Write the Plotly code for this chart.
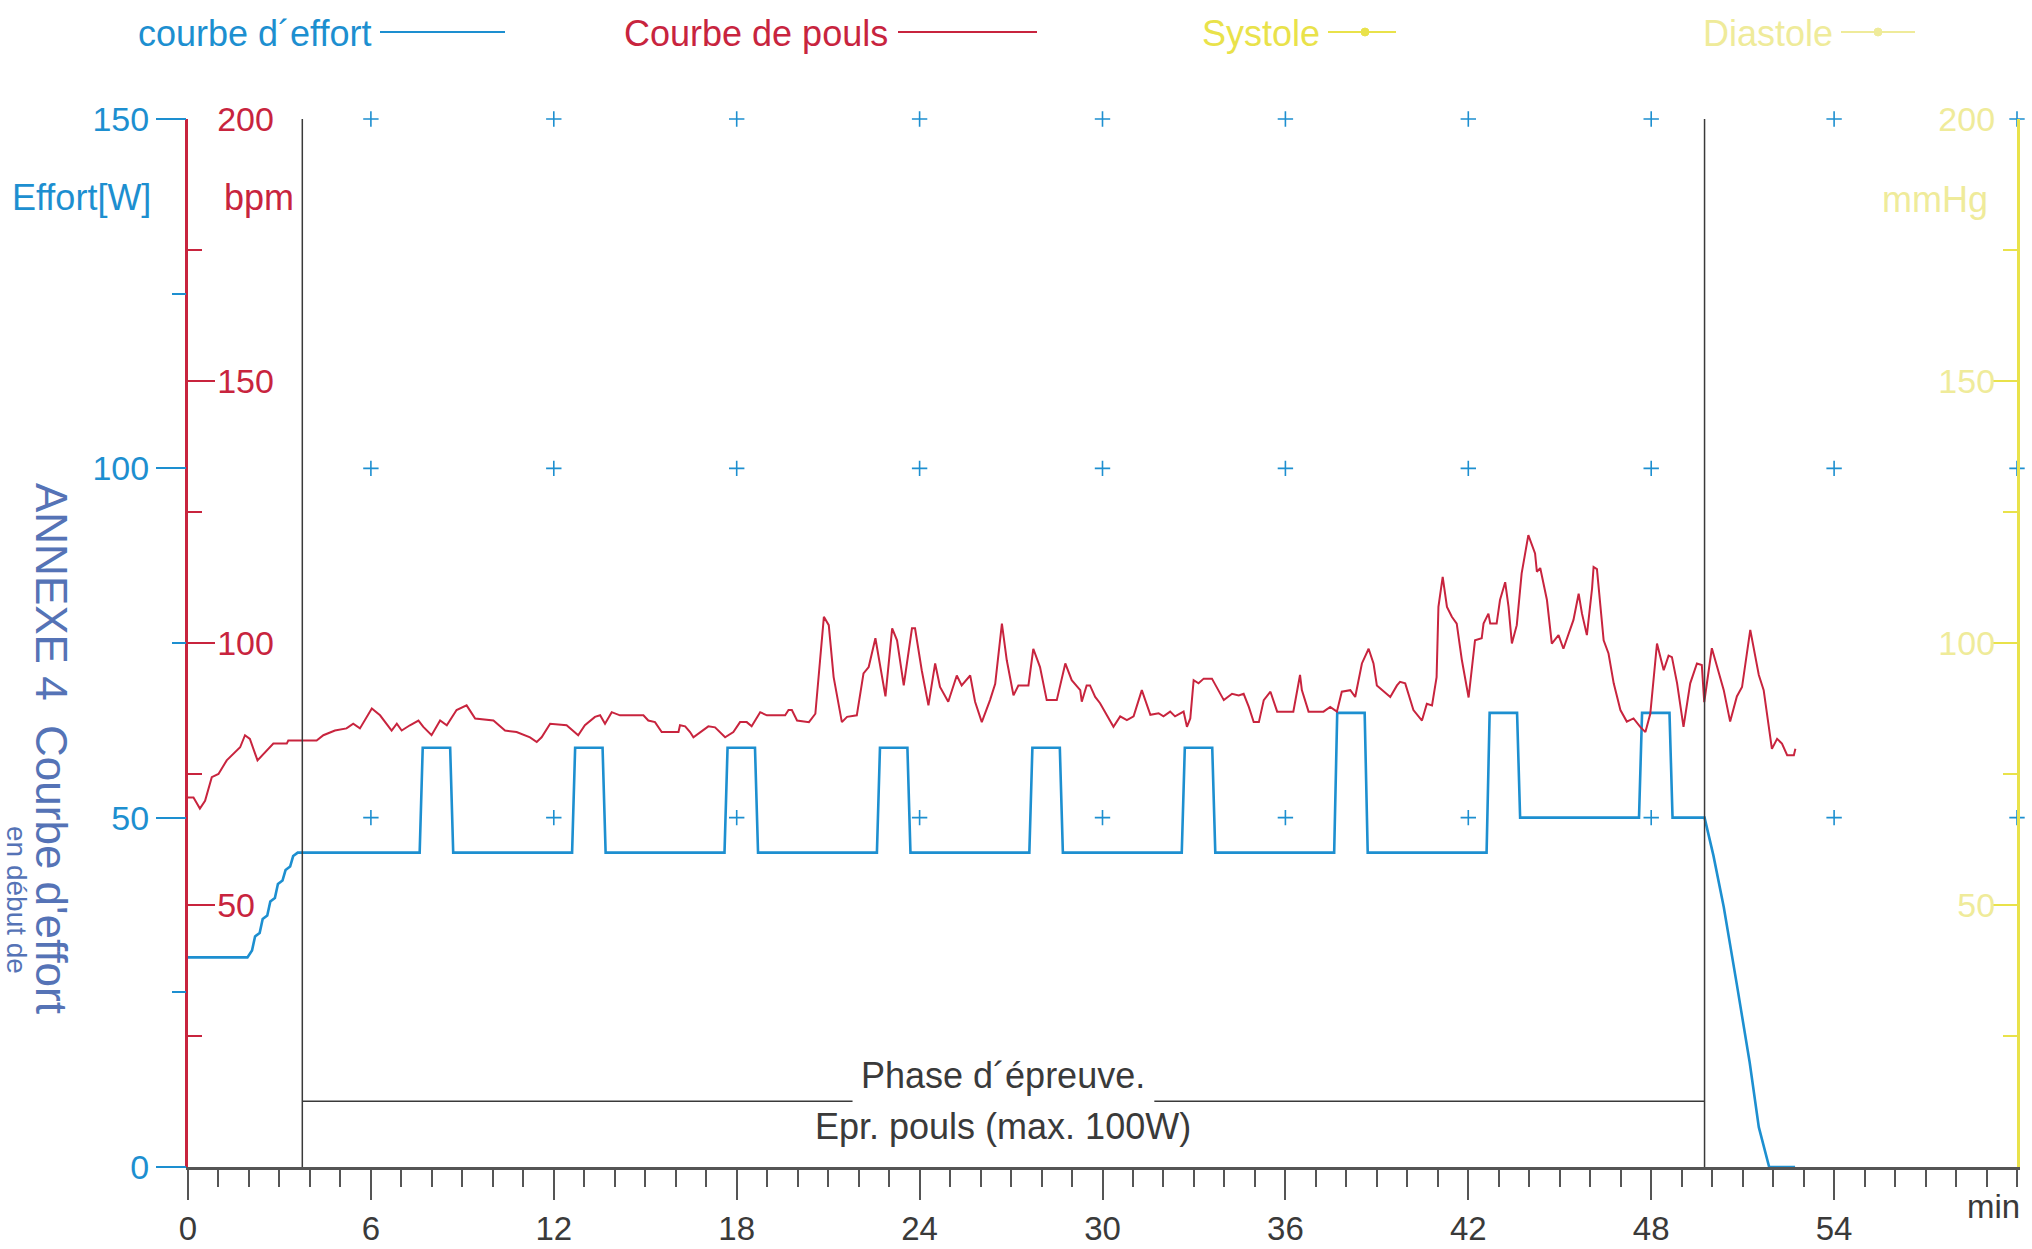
import plotly.graph_objects as go

# ---------------- data ----------------
EFFORT_T = [0, 1.95, 2.1, 2.2, 2.35, 2.45, 2.6, 2.7, 2.85, 2.95, 3.1, 3.2, 3.35, 3.45, 3.6, 3.75,
            7.6, 7.7, 8.6, 8.7, 12.6, 12.7, 13.6, 13.7, 17.6, 17.7, 18.6, 18.7,
            22.6, 22.7, 23.6, 23.7, 27.6, 27.7, 28.6, 28.7, 32.6, 32.7, 33.6, 33.7,
            37.6, 37.7, 38.6, 38.7, 42.6, 42.7, 43.6, 43.7, 47.6, 47.7, 48.6, 48.7,
            49.75, 50.04, 50.38, 50.81, 51.23, 51.53, 51.87, 52.72]
EFFORT_W = [30, 30, 31, 33, 33.5, 35.5, 36, 38, 38.5, 40.5, 41, 42.5, 43, 44.5, 45, 45,
            45, 60, 60, 45, 45, 60, 60, 45, 45, 60, 60, 45,
            45, 60, 60, 45, 45, 60, 60, 45, 45, 60, 60, 45,
            45, 65, 65, 45, 45, 65, 65, 50, 50, 65, 65, 50,
            50, 44.6, 37.2, 26.1, 15.0, 5.7, 0, 0]

PULSE_T = [0, 0.18, 0.39, 0.56, 0.78, 1.0, 1.27, 1.49, 1.71, 1.87, 2.03, 2.28, 2.53, 2.80, 3.24, 3.29,
           3.79, 4.22, 4.44, 4.82, 5.20, 5.42, 5.64, 6.03, 6.30, 6.68, 6.85, 7.01, 7.28, 7.56, 7.72,
           7.99, 8.27, 8.49, 8.81, 9.14, 9.42, 10.02, 10.40, 10.78, 11.22, 11.44, 11.60, 11.88,
           12.42, 12.80, 13.02, 13.35, 13.52, 13.68, 13.90, 14.17,
           14.94, 15.10, 15.32, 15.54, 16.09, 16.14, 16.31, 16.47, 16.58, 16.80, 17.07, 17.29,
           17.62, 17.89, 18.11, 18.33, 18.49, 18.77, 18.99, 19.59, 19.70, 19.81, 19.98, 20.37,
           20.58, 20.86, 21.02, 21.18, 21.45, 21.62, 21.94, 22.16, 22.33, 22.55, 22.88, 23.10,
           23.26, 23.48, 23.75, 23.85, 24.07, 24.29, 24.51, 24.67, 24.94, 25.22, 25.38, 25.66,
           25.82, 26.04, 26.31, 26.48, 26.70, 26.86, 27.08, 27.24, 27.57, 27.73, 27.95,
           28.17, 28.50, 28.78, 28.99, 29.27, 29.32, 29.48, 29.59, 29.76, 29.92, 30.36, 30.58,
           30.80, 31.02, 31.29, 31.57, 31.84, 32.00, 32.22, 32.38, 32.66, 32.77, 32.88, 32.99,
           33.15, 33.32, 33.59, 33.98, 34.25, 34.47, 34.63, 34.80, 34.96, 35.13, 35.29, 35.51,
           35.73, 36.26, 36.48, 36.54, 36.76, 37.25, 37.47, 37.69, 37.85, 38.13, 38.29, 38.51,
           38.73, 38.89, 39.00, 39.33, 39.44, 39.66,
           39.76, 39.93, 40.20, 40.48, 40.64, 40.81, 40.96, 41.02, 41.16, 41.30, 41.46, 41.62,
           41.79, 42.01, 42.22, 42.44, 42.50, 42.66, 42.72, 42.93, 43.04, 43.21, 43.32, 43.43,
           43.59, 43.75, 43.97, 44.19, 44.25, 44.36, 44.58, 44.74, 44.96, 45.12, 45.45, 45.62,
           45.73, 45.89, 46.06, 46.11, 46.22, 46.44, 46.60, 46.77, 46.99, 47.20, 47.42, 47.64,
           47.81, 47.97, 48.19, 48.41, 48.57, 48.68, 48.85, 49.06, 49.28, 49.50, 49.66, 49.74,
           49.99, 50.16, 50.38, 50.59, 50.81, 50.98, 51.25, 51.53, 51.69, 51.96, 52.13, 52.29,
           52.46, 52.68, 52.73]
PULSE_BPM = [70.5, 70.5, 68.4, 69.9, 74.4, 75.0, 77.6, 78.9, 80.1, 82.4, 81.7, 77.6, 79.2, 80.8, 80.8, 81.4,
             81.4, 81.4, 82.4, 83.3, 83.7, 84.6, 83.7, 87.5, 86.2, 83.3, 84.6, 83.3, 84.3, 85.2, 84.0,
             82.4, 85.2, 84.3, 87.2, 88.1, 85.6, 85.2, 83.3, 83.0, 82.0, 81.1, 82.0, 84.6,
             84.3, 82.4, 84.3, 85.9, 86.2, 84.6, 86.8, 86.2,
             86.2, 85.2, 84.9, 83.0, 83.0, 84.3, 84.1, 83.0, 82.0, 83.0, 84.1, 83.9,
             82.0, 83.0, 84.9, 84.9, 84.1, 86.8, 86.2, 86.2, 87.2, 87.2, 85.2, 84.9,
             86.5, 105.0, 103.4, 93.5, 84.9, 85.9, 86.2, 94.2, 95.4, 100.9, 89.8, 102.8,
             100.5, 91.9, 102.8, 102.8, 94.8, 88.1, 96.1, 91.6, 88.8, 93.8, 91.9, 93.8,
             88.8, 84.9, 89.1, 92.2, 103.7, 96.7, 90.0, 91.9, 91.9, 98.9, 95.4,
             89.1, 89.1, 96.1, 92.9, 91.0, 88.8, 91.9, 91.9, 89.7, 88.5, 84.0, 86.0,
             85.3, 86.0, 91.0, 86.3, 86.6, 86.0, 86.9, 86.0, 86.9, 84.0, 85.6, 92.9,
             92.3, 93.2, 93.2, 89.1, 90.3, 90.0, 90.3, 87.8, 84.9, 84.9, 89.1, 90.7,
             86.9, 86.9, 93.9, 91.0, 86.9, 86.9, 87.8, 86.9, 90.7, 91.0, 89.7, 96.1,
             98.9, 96.1, 91.9, 90.3, 89.7, 91.9,
             92.6, 92.3, 87.2, 85.2, 88.4, 88.1, 93.5, 106.9, 112.6, 106.9, 105.0, 103.7,
             96.7, 89.6, 100.5, 100.9, 103.7, 105.6, 103.7, 103.7, 108.2, 111.6, 106.9, 99.9,
             103.4, 113.3, 120.6, 117.1, 113.6, 114.3, 108.2, 99.9, 101.5, 98.9, 104.4, 109.4,
             105.6, 101.5, 110.4, 114.5, 114.1, 100.5, 98.0, 92.3, 87.2, 85.0, 85.6, 84.0,
             83.0, 86.5, 99.9, 94.8, 97.6, 97.3, 92.3, 84.0, 92.3, 96.1, 95.8, 88.7,
             99.0, 95.5, 91.0, 85.0, 89.8, 91.6, 102.5, 93.9, 91.0, 79.8, 81.7, 80.8,
             78.6, 78.6, 79.8]

X_TICKS = [0, 6, 12, 18, 24, 30, 36, 42, 48, 54]
EFFORT_TICKS = [0, 50, 100, 150]
PULSE_TICKS = [50, 100, 150, 200]
MMHG_TICKS = [50, 100, 150, 200]
GRID_X = [6, 12, 18, 24, 30, 36, 42, 48, 54, 60]
GRID_Y = [50, 100, 150]

PHASE_START = 3.75
PHASE_END = 49.75
PHASE_LEVEL = 9.4
PHASE_GAP = (21.8, 31.7)
PHASE_TEXT_T = 26.75

# ---------------- style ----------------
BLUE = "#1d8fd0"
RED = "#c8243e"
YEL = "#e9e24a"
YEL2 = "#efeb9a"
GREY = "#3a3a3a"
HAND = "#5573b6"
FONT = "Liberation Sans, Arial, sans-serif"
FS = 34
FSA = 36

W, H = 2032, 1249
PX_L, PX_R, PX_T, PX_B = 188, 2017, 119, 1167


def px(x):
    return (x - PX_L) / (PX_R - PX_L)


def py(y):
    return (PX_B - y) / (PX_B - PX_T)


fig = go.Figure()

fig.add_trace(go.Scatter(x=EFFORT_T, y=EFFORT_W, mode="lines", yaxis="y",
                         line=dict(color=BLUE, width=2.6), showlegend=False))
fig.add_trace(go.Scatter(x=PULSE_T, y=PULSE_BPM, mode="lines", yaxis="y2",
                         line=dict(color=RED, width=2), showlegend=False))

gx, gy = [], []
for yv in GRID_Y:
    for xv in GRID_X:
        gx.append(xv)
        gy.append(yv)
fig.add_trace(go.Scatter(x=gx, y=gy, mode="markers", yaxis="y", cliponaxis=False,
                         marker=dict(symbol="cross-thin", size=11,
                                     line=dict(width=1.6, color=BLUE)),
                         showlegend=False))

shapes = []
for xv in (PHASE_START, PHASE_END):
    shapes.append(dict(type="line", xref="x", yref="y", x0=xv, x1=xv, y0=0, y1=150,
                       line=dict(color=GREY, width=1.5)))
shapes.append(dict(type="line", xref="x", yref="y", x0=PHASE_START, x1=PHASE_GAP[0],
                   y0=PHASE_LEVEL, y1=PHASE_LEVEL, line=dict(color=GREY, width=1.5)))
shapes.append(dict(type="line", xref="x", yref="y", x0=PHASE_GAP[1], x1=PHASE_END,
                   y0=PHASE_LEVEL, y1=PHASE_LEVEL, line=dict(color=GREY, width=1.5)))

annotations = []


def ann(text, x, y, color, size=FSA, xanchor="center", yanchor="middle", angle=0, family=FONT):
    annotations.append(dict(text=text, x=px(x), y=py(y), xref="paper", yref="paper",
                            showarrow=False, xanchor=xanchor, yanchor=yanchor,
                            textangle=angle,
                            font=dict(family=family, size=size, color=color)))


# legend (header)
legend_items = [
    ("courbe d´effort", BLUE, 373, 380, 505, None),
    ("Courbe de pouls", RED, 890, 898, 1037, None),
    ("Systole", YEL, 1322, 1328, 1396, 1365),
    ("Diastole", YEL2, 1835, 1841, 1915, 1878),
]
for text, col, xr, l0, l1, dot in legend_items:
    ann(text, xr, 34, col, xanchor="right")
    shapes.append(dict(type="line", xref="paper", yref="paper", x0=px(l0), x1=px(l1),
                       y0=py(32), y1=py(32), line=dict(color=col, width=2)))
    if dot is not None:
        shapes.append(dict(type="circle", xref="paper", yref="paper",
                           x0=px(dot - 4), x1=px(dot + 4), y0=py(36), y1=py(28),
                           fillcolor=col, line=dict(color=col, width=1)))

ann("Effort[W]", 153, 198, BLUE, xanchor="right")
ann("bpm", 222, 198, RED, xanchor="left")
ann("mmHg", 1990, 200, YEL2, xanchor="right")
ann("min", 2022, 1206, GREY, size=33, xanchor="right")

# phase labels
annotations.append(dict(text="Phase d´épreuve.", x=PHASE_TEXT_T, y=PHASE_LEVEL, xref="x", yref="y",
                        showarrow=False, xanchor="center", yanchor="bottom", yshift=3,
                        font=dict(family=FONT, size=FSA, color=GREY)))
annotations.append(dict(text="Epr. pouls (max. 100W)", x=PHASE_TEXT_T, y=PHASE_LEVEL, xref="x", yref="y",
                        showarrow=False, xanchor="center", yanchor="top", yshift=-3,
                        font=dict(family=FONT, size=FSA, color=GREY)))

# handwritten notes on the scan
ann("ANNEXE 4  Courbe d'effort", 52, 748, HAND, size=44, angle=90)
ann("en début de", 17, 900, HAND, size=28, angle=90)

ax_common = dict(automargin=False, showgrid=False, zeroline=False, showline=True)

fig.update_layout(
    template="none",
    width=W, height=H,
    margin=dict(l=PX_L, r=W - PX_R, t=PX_T, b=H - PX_B, pad=0, autoexpand=False),
    paper_bgcolor="white", plot_bgcolor="white",
    font=dict(family=FONT, size=FS),
    showlegend=False,
    shapes=shapes,
    annotations=annotations,
    xaxis=dict(**ax_common, range=[0, 60],
               linecolor="#555555", linewidth=3,
               ticks="outside", tickvals=X_TICKS, ticktext=[str(v) for v in X_TICKS],
               ticklen=30, tickwidth=1.5, tickcolor="#555555",
               tickfont=dict(size=33, color=GREY),
               minor=dict(dtick=1, tick0=0, ticks="outside", ticklen=17, tickwidth=1.5,
                          tickcolor="#555555", showgrid=False)),
    yaxis=dict(**ax_common, range=[0, 150], side="left",
               linecolor=BLUE, linewidth=2,
               ticks="outside", tickvals=EFFORT_TICKS, ticktext=[str(v) for v in EFFORT_TICKS],
               ticklen=30, tickwidth=1.5, tickcolor=BLUE,
               tickfont=dict(size=FS, color=BLUE),
               minor=dict(tickvals=[25, 75, 125], ticks="outside", ticklen=14, tickwidth=1.5,
                          tickcolor=BLUE, showgrid=False)),
    yaxis2=dict(**ax_common, range=[0, 200], overlaying="y", side="left", anchor="x",
                linecolor=RED, linewidth=3,
                ticks="inside", tickvals=PULSE_TICKS, ticktext=[str(v) for v in PULSE_TICKS],
                ticklen=27, tickwidth=1.5, tickcolor=RED,
                ticklabelposition="inside", ticklabeloverflow="allow", ticklabelstandoff=6,
                tickfont=dict(size=FS, color=RED),
                minor=dict(tickvals=[25, 75, 125, 175], ticks="inside", ticklen=14, tickwidth=1.5,
                           tickcolor=RED, showgrid=False)),
    yaxis3=dict(**ax_common, range=[0, 200], overlaying="y", side="right", anchor="x",
                linecolor=YEL, linewidth=2.5,
                ticks="inside", tickvals=MMHG_TICKS, ticktext=[str(v) for v in MMHG_TICKS],
                ticklen=26, tickwidth=1.5, tickcolor=YEL,
                ticklabelposition="inside", ticklabeloverflow="allow",
                tickfont=dict(size=FS, color=YEL2),
                minor=dict(tickvals=[25, 75, 125, 175], ticks="inside", ticklen=14, tickwidth=1.5,
                           tickcolor=YEL, showgrid=False)),
)

# dummy trace so yaxis3 is drawn
fig.add_trace(go.Scatter(x=[None], y=[None], yaxis="y3", showlegend=False, hoverinfo="skip"))

fig.write_html("out.html", config={"displayModeBar": False},
               post_script="document.body.style.margin='0';document.body.style.overflow='hidden';")
